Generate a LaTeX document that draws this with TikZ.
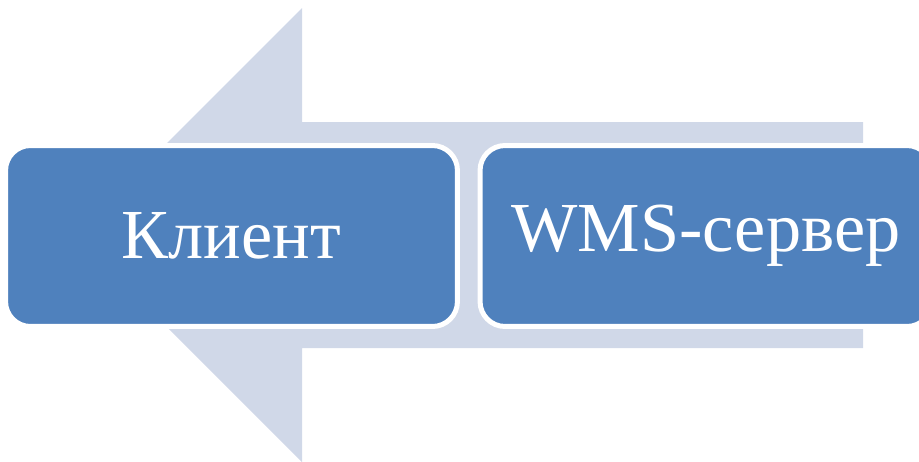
\documentclass[tikz,border=0pt]{standalone}
\usepackage{fontspec}
\setmainfont{Liberation Serif}
\usepackage{xcolor}
\usetikzlibrary{positioning}
\definecolor{boxblue}{HTML}{4F81BD}
\definecolor{arrowgrey}{HTML}{D0D8E8}

\begin{document}
\begin{tikzpicture}[
    x=0.02cm, y=-0.02cm,
    box/.style={rectangle, rounded corners=0.5cm, draw=white, line width=0.1cm, fill=boxblue, text=white, minimum height=3.62cm, align=center, font=\fontsize{40}{48}\selectfont},
    bigarrow/.style={fill=arrowgrey, draw=none}
]
\useasboundingbox (0,0) rectangle (919,461);
\clip (0,0) rectangle (919,461);

% Background arrow
\fill[bigarrow] (863,122) -- (302,122) -- (302,8) -- (75,235) -- (302,462) -- (302,348) -- (863,348) -- cycle;

% Client
\node[box, minimum width=9.04cm] (client) at (231.5,236) {Клиент};

% WMS server
\node[box, minimum width=9.04cm] (server) at (706,236) {WMS-сервер};

\end{tikzpicture}
\end{document}
